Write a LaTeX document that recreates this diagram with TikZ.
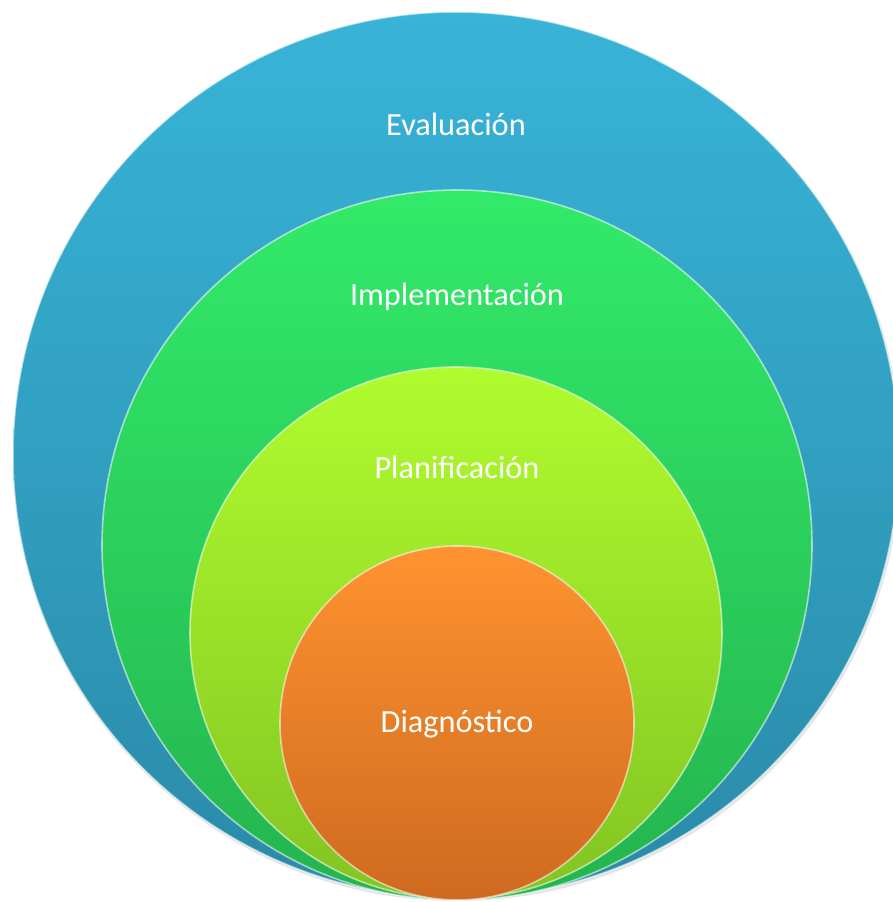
\documentclass[tikz,border=0pt]{standalone}
\usepackage{fontspec}
\setmainfont{Carlito}
\begin{document}
\begin{tikzpicture}[x=1pt,y=1pt,
  ring/.style={circle, inner sep=0pt, shade, draw=white, draw opacity=0.55, line width=1.6pt},
  label/.style={text=white, font=\fontsize{32.3}{38}\selectfont, inner sep=0pt, anchor=center}]
\useasboundingbox (0,0) rectangle (893,902);
\clip (0,0) rectangle (893,902);
\fill[white] (0,0) rectangle (893,902);
% soft shadow
\fill[black, opacity=0.10] (457,445) circle (444);
\node (eval) [ring, minimum size=886pt, top color={rgb,255:red,56;green,180;blue,216}, bottom color={rgb,255:red,42;green,138;blue,168}] at (456,447) {};
\node (impl) [ring, minimum size=710pt, top color={rgb,255:red,50;green,234;blue,106}, bottom color={rgb,255:red,36;green,180;blue,78}] at (457,357) {};
\node (plan) [ring, minimum size=532pt, top color={rgb,255:red,176;green,252;blue,46}, bottom color={rgb,255:red,130;green,196;blue,34}] at (456,269) {};
\node (diag) [ring, minimum size=354pt, top color={rgb,255:red,255;green,147;blue,48}, bottom color={rgb,255:red,206;green,106;blue,32}] at (457,179) {};
\node (teval) [label] at (456,778) {Evaluación};
\node (timpl) [label] at (457,605) {Implementación};
\node (tplan) [label] at (457,435) {Planificación};
\node (tdiag) [label] at (457,178) {Diagnóstico};
\end{tikzpicture}
\end{document}
